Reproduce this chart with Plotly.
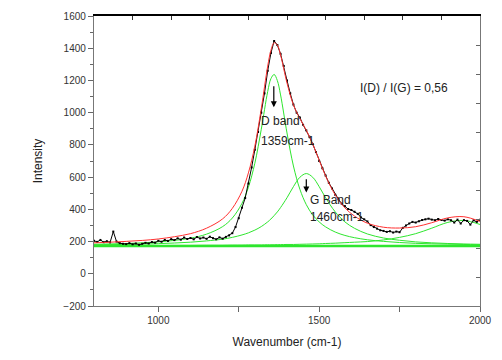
import plotly.graph_objects as go

# Measured Raman spectrum (cm-1, counts)
wavenumber = list(range(800, 2001, 10))
intensity = [
    205, 198, 210, 196, 202, 195, 262, 200, 190, 186,
    184, 190, 183, 188, 180, 186, 192, 188, 197, 193,
    205, 199, 210, 204, 215, 209, 220, 212, 225, 216,
    222, 214, 228, 219, 225, 217, 230, 221, 214, 226,
    218, 229, 238, 252, 290, 345, 410, 470, 560, 660,
    770, 880, 1000, 1120, 1260, 1370, 1445, 1420, 1365, 1290,
    1200, 1120, 1050, 1000, 970, 925, 890, 850, 805, 755,
    700, 655, 610, 565, 530, 490, 462, 435, 420, 402,
    396, 385, 372, 350, 338, 325, 302, 290, 280, 270,
    266, 260, 264, 256, 262, 258, 285, 300, 312, 322,
    318, 326, 334, 338, 342, 336, 332, 340, 334, 330,
    338, 332, 318, 336, 312, 333, 328, 305, 332, 322,
    336,
]

# Fitted components, sampled on a common grid
fit_x = [800, 850, 900, 950, 1000, 1050, 1100, 1150, 1200, 1230,
         1260, 1280, 1300, 1320, 1340, 1350, 1360, 1370, 1380, 1400,
         1420, 1440, 1460, 1480, 1500, 1520, 1550, 1580, 1610, 1650,
         1700, 1750, 1800, 1850, 1900, 1950, 2000]
d_band = [183, 185, 188, 192, 198, 207, 221, 246, 293, 346,
          437, 537, 686, 897, 1131, 1211, 1237, 1199, 1110, 874,
          669, 525, 429, 365, 322, 291, 259, 238, 224, 211,
          201, 194, 189, 186, 184, 182, 180]
g_band = [179, 181, 182, 184, 187, 191, 196, 204, 215, 226,
          241, 254, 271, 293, 322, 340, 361, 384, 411, 472,
          541, 599, 622, 599, 541, 472, 384, 322, 282, 247,
          222, 208, 198, 192, 188, 185, 183]
third_band = [174, 174, 175, 175, 175, 176, 176, 177, 177, 178,
              178, 179, 179, 179, 180, 180, 180, 181, 181, 182,
              182, 183, 184, 185, 186, 188, 190, 193, 196, 200,
              210, 226, 249, 283, 319, 331, 306]
baseline = [172] * len(fit_x)
cumulative_fit = [192, 196, 201, 207, 216, 230, 249, 283, 341, 406,
                  512, 626, 792, 1025, 1289, 1387, 1434, 1420, 1358, 1184,
                  1048, 963, 891, 805, 705, 607, 489, 409, 358, 314,
                  289, 284, 292, 317, 347, 354, 325]

GREEN = "#2ee62e"
FONT = "Liberation Sans, Arial, sans-serif"

fig = go.Figure()

for comp in (d_band, g_band, third_band):
    fig.add_trace(go.Scatter(x=fit_x, y=comp, mode="lines", line_shape="spline",
                             line=dict(color=GREEN, width=1), hoverinfo="skip"))
fig.add_trace(go.Scatter(x=fit_x, y=baseline, mode="lines",
                         line=dict(color=GREEN, width=2.5), hoverinfo="skip"))
fig.add_trace(go.Scatter(x=wavenumber, y=intensity, mode="lines+markers",
                         line=dict(color="black", width=1),
                         marker=dict(symbol="square", size=2, color="black")))
fig.add_trace(go.Scatter(x=fit_x, y=cumulative_fit, mode="lines", line_shape="spline",
                         line=dict(color="#ff3030", width=1), hoverinfo="skip"))

# Secondary frame axes (top and right) with inward ticks
fig.add_trace(go.Scatter(x=[0, 10], y=[0, 10], xaxis="x2", yaxis="y2",
                         mode="markers", marker=dict(opacity=0), hoverinfo="skip"))

text_font = dict(family=FONT, size=12, color="#222222")
annotations = [
    dict(x=1620, y=1156, text="I(D) / I(G) = 0,56", xanchor="left", yanchor="middle",
         showarrow=False, font=text_font),
    dict(x=1312, y=949, text="D band", xanchor="left", yanchor="middle",
         showarrow=False, font=text_font),
    dict(x=1312, y=827, text="1359cm-1", xanchor="left", yanchor="middle",
         showarrow=False, font=text_font),
    dict(x=1465, y=456, text="G Band", xanchor="left", yanchor="middle",
         showarrow=False, font=text_font),
    dict(x=1465, y=353, text="1460cm-1", xanchor="left", yanchor="middle",
         showarrow=False, font=text_font),
    dict(x=1359, y=1034, ax=1359, ay=1174, axref="x", ayref="y", text="",
         showarrow=True, arrowhead=2, arrowsize=1, arrowwidth=1.2, arrowcolor="black"),
    dict(x=1460, y=505, ax=1460, ay=596, axref="x", ayref="y", text="",
         showarrow=True, arrowhead=2, arrowsize=1, arrowwidth=1.2, arrowcolor="black"),
]

tick_font = dict(family=FONT, size=10, color="#333333")
fig.update_layout(
    width=502, height=360,
    margin=dict(l=94, r=14, t=10, b=54),
    paper_bgcolor="white", plot_bgcolor="white",
    showlegend=False,
    annotations=annotations,
    xaxis=dict(range=[800, 2000], tickvals=[1000, 1500, 2000], ticks="outside",
               ticklen=5, tickcolor="#666666", showgrid=False, zeroline=False,
               showline=True, linecolor="#777777", linewidth=1.3,
               minor=dict(tickvals=[1250, 1750], ticks="outside", ticklen=5,
                          tickcolor="#666666"),
               tickfont=tick_font,
               title=dict(text="Wavenumber (cm-1)", standoff=12,
                          font=dict(family=FONT, size=12, color="#222222"))),
    yaxis=dict(range=[-200, 1600], dtick=200, ticks="outside", ticklen=5,
               tickcolor="#666666", showgrid=False, zeroline=False,
               showline=True, linecolor="#777777", linewidth=1.3,
               minor=dict(dtick=100, ticks="outside", ticklen=3, tickcolor="#666666"),
               tickfont=tick_font,
               title=dict(text="Intensity", standoff=18,
                          font=dict(family=FONT, size=12, color="#222222"))),
    xaxis2=dict(overlaying="x", side="top", anchor="y", range=[0, 10], dtick=1,
                ticks="inside", ticklen=4, tickcolor="#333333", showticklabels=False,
                showgrid=False, zeroline=False, showline=True,
                linecolor="black", linewidth=2),
    yaxis2=dict(overlaying="y", side="right", anchor="x", range=[0, 10], dtick=1,
                ticks="inside", ticklen=4, tickcolor="#666666", showticklabels=False,
                showgrid=False, zeroline=False, showline=True,
                linecolor="#777777", linewidth=1.3),
)

fig.write_html("out.html")
